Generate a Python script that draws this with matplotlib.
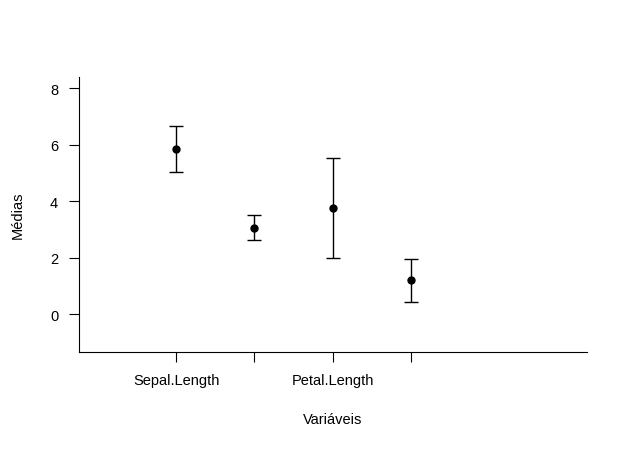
import matplotlib
matplotlib.use("Agg")
import matplotlib.pyplot as plt

plt.rcParams['font.family'] = ['Liberation Sans', 'DejaVu Sans']

variaveis = ['Sepal.Length', 'Sepal.Width', 'Petal.Length', 'Petal.Width']
medias = [5.843, 3.057, 3.758, 1.199]
desvios = [0.828, 0.436, 1.765, 0.762]
xpos = [1, 2, 3, 4]

fig = plt.figure(figsize=(6.28, 4.52), dpi=100)
ax = fig.add_axes([0.1258, 0.219, 0.8089, 0.6084])
ax.errorbar(xpos, medias, yerr=desvios, fmt='o', color='black', ms=5,
            elinewidth=1, capsize=5, capthick=1)
ax.set_xlim(-0.24, 6.25)
ax.set_ylim(-1.345, 8.39)
ax.set_xticks(xpos)
ax.set_xticklabels([variaveis[0], '', variaveis[2], ''])
ax.set_yticks([0, 2, 4, 6, 8])
ax.spines['top'].set_visible(False)
ax.spines['right'].set_visible(False)
ax.tick_params(length=7, labelsize=10.5, pad=8)
ax.set_xlabel('Variáveis', fontsize=10.5, labelpad=18)
ax.set_ylabel('Médias', fontsize=10.5, labelpad=18)
fig.savefig('out.png', dpi=100)
